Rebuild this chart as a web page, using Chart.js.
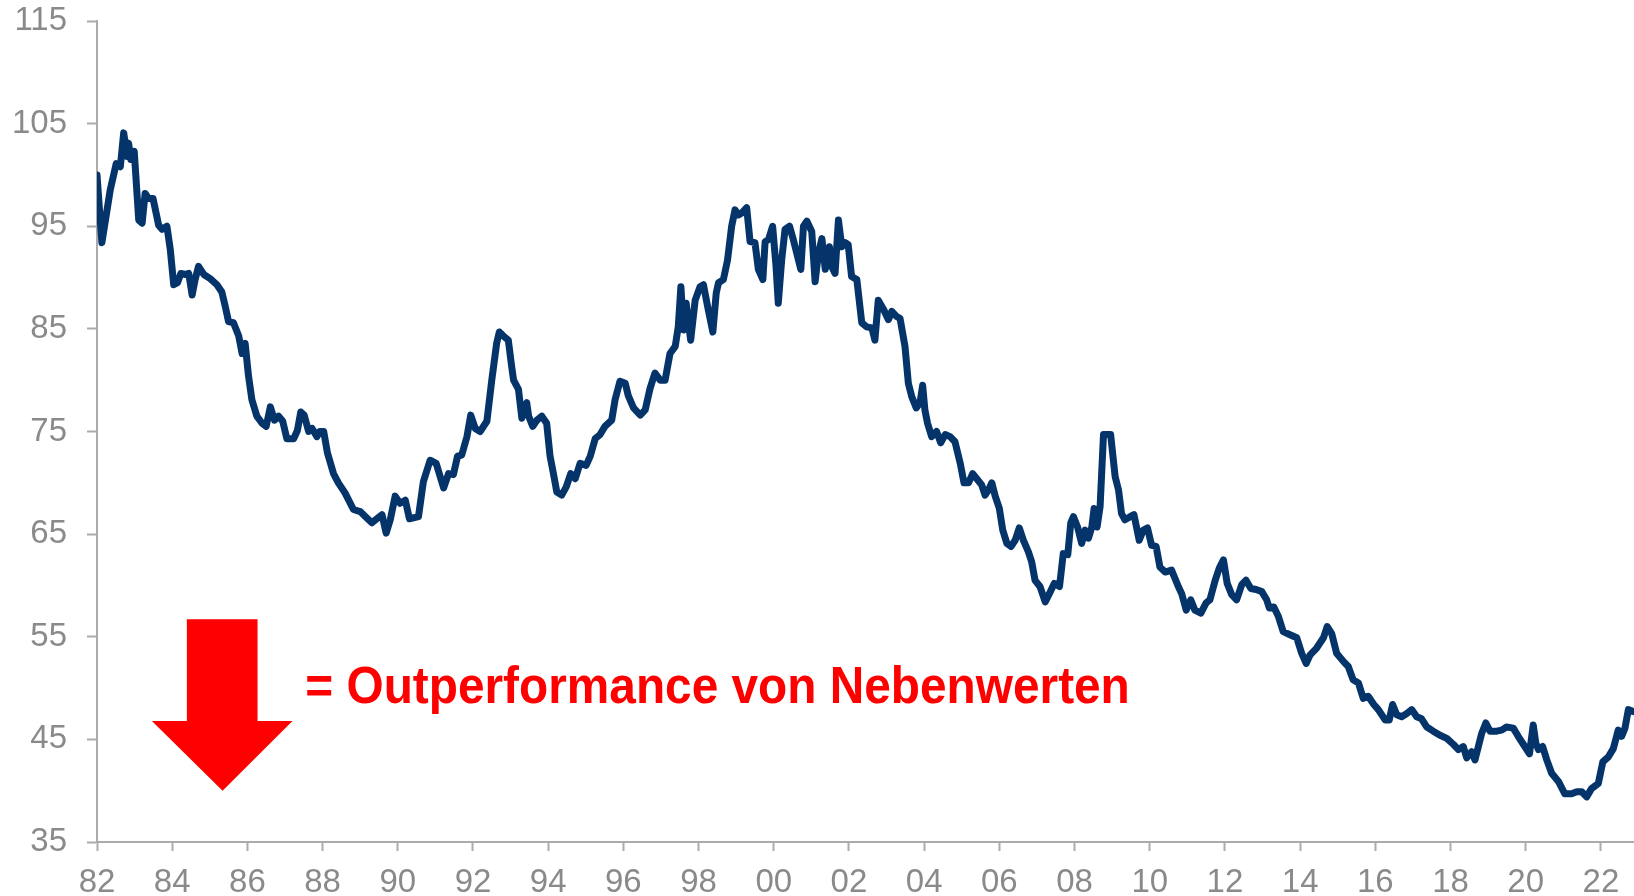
<!DOCTYPE html>
<html>
<head>
<meta charset="utf-8">
<script src="https://cdn.jsdelivr.net/npm/chart.js@4.4.1/dist/chart.umd.min.js"></script>
<style>
    body { margin: 0; background: #ffffff; }
    #box { width: 1634px; height: 896px; }
</style>
</head>
<body>
<div id="box"><canvas id="grafik"></canvas></div>
<script>
// Jahre (dezimal) und Indexwerte
const jahre = [
    1982.00, 1982.13, 1982.35, 1982.51, 1982.62, 1982.71, 1982.80, 1982.84, 1982.90, 1982.99,
    1983.11, 1983.20, 1983.28, 1983.37, 1983.49, 1983.64, 1983.73, 1983.86, 1983.95, 1984.04,
    1984.14, 1984.23, 1984.35, 1984.44, 1984.53, 1984.61, 1984.70, 1984.84, 1985.01, 1985.19,
    1985.32, 1985.41, 1985.50, 1985.63, 1985.77, 1985.86, 1985.94, 1986.03, 1986.12, 1986.25,
    1986.39, 1986.50, 1986.61, 1986.72, 1986.83, 1986.94, 1987.05, 1987.23, 1987.33, 1987.42,
    1987.51, 1987.63, 1987.72, 1987.85, 1987.92, 1988.03, 1988.13, 1988.29, 1988.42, 1988.60,
    1988.82, 1989.00, 1989.17, 1989.31, 1989.58, 1989.69, 1989.80, 1989.93, 1990.06, 1990.20,
    1990.31, 1990.55, 1990.68, 1990.86, 1991.02, 1991.22, 1991.35, 1991.48, 1991.59, 1991.70,
    1991.84, 1991.94, 1992.06, 1992.19, 1992.37, 1992.50, 1992.63, 1992.70, 1992.81, 1992.94,
    1993.03, 1993.08, 1993.21, 1993.30, 1993.36, 1993.43, 1993.48, 1993.59, 1993.70, 1993.83,
    1993.96, 1994.05, 1994.14, 1994.23, 1994.36, 1994.48, 1994.60, 1994.72, 1994.85, 1995.01,
    1995.12, 1995.25, 1995.38, 1995.51, 1995.69, 1995.78, 1995.91, 1996.05, 1996.13, 1996.27,
    1996.45, 1996.58, 1996.71, 1996.84, 1996.98, 1997.11, 1997.24, 1997.38, 1997.46, 1997.53,
    1997.60, 1997.67, 1997.73, 1997.79, 1997.91, 1998.04, 1998.13, 1998.24, 1998.38, 1998.47,
    1998.53, 1998.66, 1998.77, 1998.88, 1998.97, 1999.06, 1999.15, 1999.28, 1999.37, 1999.50,
    1999.59, 1999.71, 1999.77, 1999.86, 1999.97, 2000.06, 2000.12, 2000.21, 2000.30, 2000.42,
    2000.52, 2000.63, 2000.72, 2000.79, 2000.88, 2001.01, 2001.10, 2001.19, 2001.28, 2001.37,
    2001.48, 2001.54, 2001.63, 2001.72, 2001.81, 2001.90, 2001.98, 2002.07, 2002.21, 2002.34,
    2002.47, 2002.61, 2002.69, 2002.78, 2002.92, 2003.05, 2003.14, 2003.27, 2003.36, 2003.49,
    2003.58, 2003.67, 2003.79, 2003.89, 2003.96, 2004.02, 2004.09, 2004.20, 2004.33, 2004.44,
    2004.56, 2004.69, 2004.82, 2004.96, 2005.06, 2005.18, 2005.29, 2005.42, 2005.53, 2005.62,
    2005.71, 2005.80, 2005.89, 2006.00, 2006.09, 2006.20, 2006.31, 2006.42, 2006.53, 2006.64,
    2006.77, 2006.86, 2006.95, 2007.08, 2007.22, 2007.33, 2007.46, 2007.60, 2007.70, 2007.82,
    2007.90, 2007.97, 2008.08, 2008.19, 2008.28, 2008.37, 2008.46, 2008.52, 2008.60, 2008.68,
    2008.77, 2008.86, 2008.96, 2009.08, 2009.17, 2009.25, 2009.34, 2009.48, 2009.58, 2009.72,
    2009.83, 2009.94, 2010.05, 2010.17, 2010.27, 2010.41, 2010.58, 2010.76, 2010.85, 2010.97,
    2011.09, 2011.20, 2011.36, 2011.50, 2011.60, 2011.74, 2011.85, 2011.96, 2012.06, 2012.18,
    2012.31, 2012.45, 2012.56, 2012.69, 2012.83, 2012.98, 2013.11, 2013.18, 2013.30, 2013.42,
    2013.55, 2013.73, 2013.91, 2014.04, 2014.16, 2014.26, 2014.44, 2014.62, 2014.72, 2014.84,
    2014.97, 2015.15, 2015.28, 2015.41, 2015.55, 2015.68, 2015.81, 2015.96, 2016.08, 2016.26,
    2016.37, 2016.46, 2016.57, 2016.70, 2016.83, 2016.97, 2017.10, 2017.23, 2017.37, 2017.54,
    2017.72, 2017.90, 2018.08, 2018.21, 2018.34, 2018.43, 2018.56, 2018.65, 2018.74, 2018.83,
    2018.94, 2019.05, 2019.23, 2019.36, 2019.49, 2019.67, 2019.80, 2019.94, 2020.10, 2020.20,
    2020.27, 2020.34, 2020.45, 2020.56, 2020.69, 2020.87, 2021.04, 2021.22, 2021.36, 2021.49,
    2021.62, 2021.75, 2021.93, 2022.05, 2022.20, 2022.33, 2022.46, 2022.55, 2022.64, 2022.73,
    2022.88
];

const werte = [
    100.0, 93.4, 98.5, 101.1, 100.8, 104.1, 101.8, 103.1, 101.5, 102.3,
    95.6, 95.3, 98.2, 97.7, 97.7, 95.1, 94.7, 95.0, 92.7, 89.3,
    89.5, 90.4, 90.3, 90.4, 88.3, 89.8, 91.1, 90.3, 89.9, 89.3,
    88.6, 87.2, 85.7, 85.6, 84.3, 82.6, 83.6, 80.4, 78.1, 76.5,
    75.8, 75.5, 77.4, 76.1, 76.5, 76.0, 74.3, 74.3, 75.1, 76.9,
    76.6, 75.0, 75.3, 74.5, 75.0, 75.0, 72.9, 70.9, 70.0, 69.0,
    67.4, 67.2, 66.6, 66.1, 66.9, 65.1, 66.4, 68.7, 68.0, 68.3,
    66.5, 66.7, 70.1, 72.2, 71.9, 69.5, 70.9, 70.8, 72.6, 72.7,
    74.5, 76.6, 75.3, 75.0, 76.0, 80.0, 83.6, 84.7, 84.3, 83.9,
    81.3, 80.0, 79.1, 76.3, 77.4, 77.8, 76.5, 75.5, 76.1, 76.5,
    75.8, 72.6, 70.9, 69.1, 68.8, 69.6, 70.9, 70.4, 71.9, 71.7,
    72.6, 74.3, 74.7, 75.5, 76.1, 78.1, 79.9, 79.7, 78.5, 77.3,
    76.6, 77.1, 79.2, 80.7, 80.0, 80.0, 82.6, 83.3, 85.2, 89.1,
    84.9, 87.5, 85.6, 83.9, 87.8, 89.1, 89.3, 87.2, 84.7, 88.5,
    89.5, 89.8, 91.7, 95.0, 96.6, 96.1, 96.3, 96.8, 93.5, 93.4,
    90.8, 89.8, 93.5, 93.7, 95.0, 91.1, 87.5, 91.7, 94.7, 95.0,
    93.7, 92.1, 90.8, 95.0, 95.5, 94.5, 89.6, 92.4, 93.8, 90.8,
    93.0, 91.1, 90.4, 95.6, 93.0, 93.4, 93.2, 90.1, 89.8, 85.6,
    85.2, 85.1, 83.9, 87.8, 86.9, 85.9, 86.7, 86.2, 86.0, 83.3,
    79.7, 78.4, 77.3, 77.8, 79.5, 77.1, 75.8, 74.5, 75.0, 73.9,
    74.7, 74.5, 74.0, 71.9, 70.0, 70.0, 70.9, 70.3, 69.8, 68.8,
    69.3, 70.0, 68.7, 67.5, 65.4, 64.1, 63.8, 64.4, 65.6, 64.4,
    63.3, 62.3, 60.5, 59.9, 58.4, 59.2, 60.2, 59.9, 63.1, 63.0,
    66.1, 66.7, 65.7, 64.1, 65.4, 64.6, 65.7, 67.5, 65.7, 67.7,
    74.7, 74.7, 74.7, 70.6, 69.3, 67.0, 66.4, 66.7, 66.9, 64.4,
    65.4, 65.6, 63.9, 63.8, 61.8, 61.3, 61.5, 59.9, 59.2, 57.6,
    58.6, 57.6, 57.3, 58.3, 58.6, 60.5, 61.7, 62.5, 60.2, 59.1,
    58.6, 60.1, 60.5, 59.7, 59.6, 59.4, 58.6, 57.8, 57.9, 57.0,
    55.5, 55.2, 54.9, 53.4, 52.4, 53.2, 53.9, 54.9, 56.0, 55.3,
    53.4, 52.6, 52.1, 50.8, 50.5, 49.0, 49.2, 48.4, 47.9, 46.9,
    46.9, 48.4, 47.4, 47.2, 47.5, 47.9, 47.2, 47.0, 46.2, 45.8,
    45.4, 45.1, 44.5, 44.0, 44.3, 43.2, 43.8, 43.0, 44.3, 45.6,
    46.6, 45.8, 45.8, 45.9, 46.2, 46.1, 45.3, 44.5, 43.6, 46.4,
    44.6, 44.0, 44.3, 43.0, 41.7, 40.9, 39.7, 39.7, 39.9, 39.9,
    39.4, 40.2, 40.7, 42.8, 43.3, 44.1, 45.9, 45.3, 46.1, 47.9,
    47.7
];

const xMin = 1982;
const xMax = 2022.88;
const yMin = 35;
const yMax = 115;

const textHinweis = "= Outperformance von Nebenwerten";

const grau = "#8a8a8a";
const achsenGrau = "#ababab";
const schrift = '"Liberation Sans", Arial, sans-serif';

// Pfeil und Text, in Achsenwerten
const pfeil = {
    schaftLinks: 1984.39, schaftRechts: 1986.27,
    kopfLinks: 1983.46, kopfRechts: 1987.20, spitze: 1985.34,
    oben: 56.7, kopfOben: 46.8, unten: 40.0
};
const hinweisPos = { x: 1987.54, y: 48.55, bisX: 2009.47 };

const punkte = jahre.map((j, i) => ({ x: j, y: werte[i] }));

const hinweisPlugin = {
    id: "hinweis",
    afterDraw(chart) {
        const ctx = chart.ctx;
        const sx = chart.scales.x;
        const sy = chart.scales.y;
        const px = v => sx.getPixelForValue(v);
        const py = v => sy.getPixelForValue(v);

        ctx.save();
        ctx.fillStyle = "#ff0000";
        ctx.beginPath();
        ctx.moveTo(px(pfeil.schaftLinks), py(pfeil.oben));
        ctx.lineTo(px(pfeil.schaftRechts), py(pfeil.oben));
        ctx.lineTo(px(pfeil.schaftRechts), py(pfeil.kopfOben));
        ctx.lineTo(px(pfeil.kopfRechts), py(pfeil.kopfOben));
        ctx.lineTo(px(pfeil.spitze), py(pfeil.unten));
        ctx.lineTo(px(pfeil.kopfLinks), py(pfeil.kopfOben));
        ctx.lineTo(px(pfeil.schaftLinks), py(pfeil.kopfOben));
        ctx.closePath();
        ctx.fill();

        // etwas schmaler gesetzter Text wie im Original
        ctx.font = "bold 52px " + schrift;
        ctx.textBaseline = "alphabetic";
        ctx.textAlign = "left";
        const x0 = px(hinweisPos.x);
        const breite = px(hinweisPos.bisX) - x0;
        const gemessen = ctx.measureText(textHinweis).width;
        ctx.translate(x0, py(hinweisPos.y));
        ctx.scale(breite / gemessen, 1);
        ctx.fillText(textHinweis, 0, 0);
        ctx.restore();
    }
};

new Chart(document.getElementById("grafik"), {
    type: "line",
    data: {
        datasets: [{
            data: punkte,
            borderColor: "#05346a",
            borderWidth: 7,
            pointRadius: 0,
            tension: 0,
            borderJoinStyle: "round",
            borderCapStyle: "round"
        }]
    },
    options: {
        responsive: true,
        maintainAspectRatio: false,
        animation: false,
        layout: { padding: { top: 21, right: 0, bottom: 0, left: 0 } },
        plugins: {
            legend: { display: false },
            tooltip: { enabled: false }
        },
        scales: {
            x: {
                type: "linear",
                min: xMin,
                max: xMax,
                afterFit: scale => {
                    scale.height = 54;
                    scale.paddingLeft = 0;
                    scale.paddingRight = 0;
                },
                border: { color: achsenGrau, width: 2 },
                grid: { drawOnChartArea: false, tickLength: 9, tickColor: achsenGrau, tickWidth: 2 },
                ticks: {
                    stepSize: 2,
                    includeBounds: false,
                    autoSkip: false,
                    maxRotation: 0,
                    padding: 12,
                    color: grau,
                    font: { family: schrift, size: 33 },
                    callback: v => String(Math.round(v) % 100).padStart(2, "0")
                }
            },
            y: {
                min: yMin,
                max: yMax,
                afterFit: scale => {
                    scale.width = 97;
                    scale.paddingTop = 0;
                    scale.paddingBottom = 0;
                },
                border: { color: achsenGrau, width: 2 },
                grid: { drawOnChartArea: false, tickLength: 10, tickColor: achsenGrau, tickWidth: 2 },
                ticks: {
                    stepSize: 10,
                    padding: 20,
                    color: grau,
                    font: { family: schrift, size: 33 }
                }
            }
        }
    },
    plugins: [hinweisPlugin]
});
</script>
</body>
</html>
